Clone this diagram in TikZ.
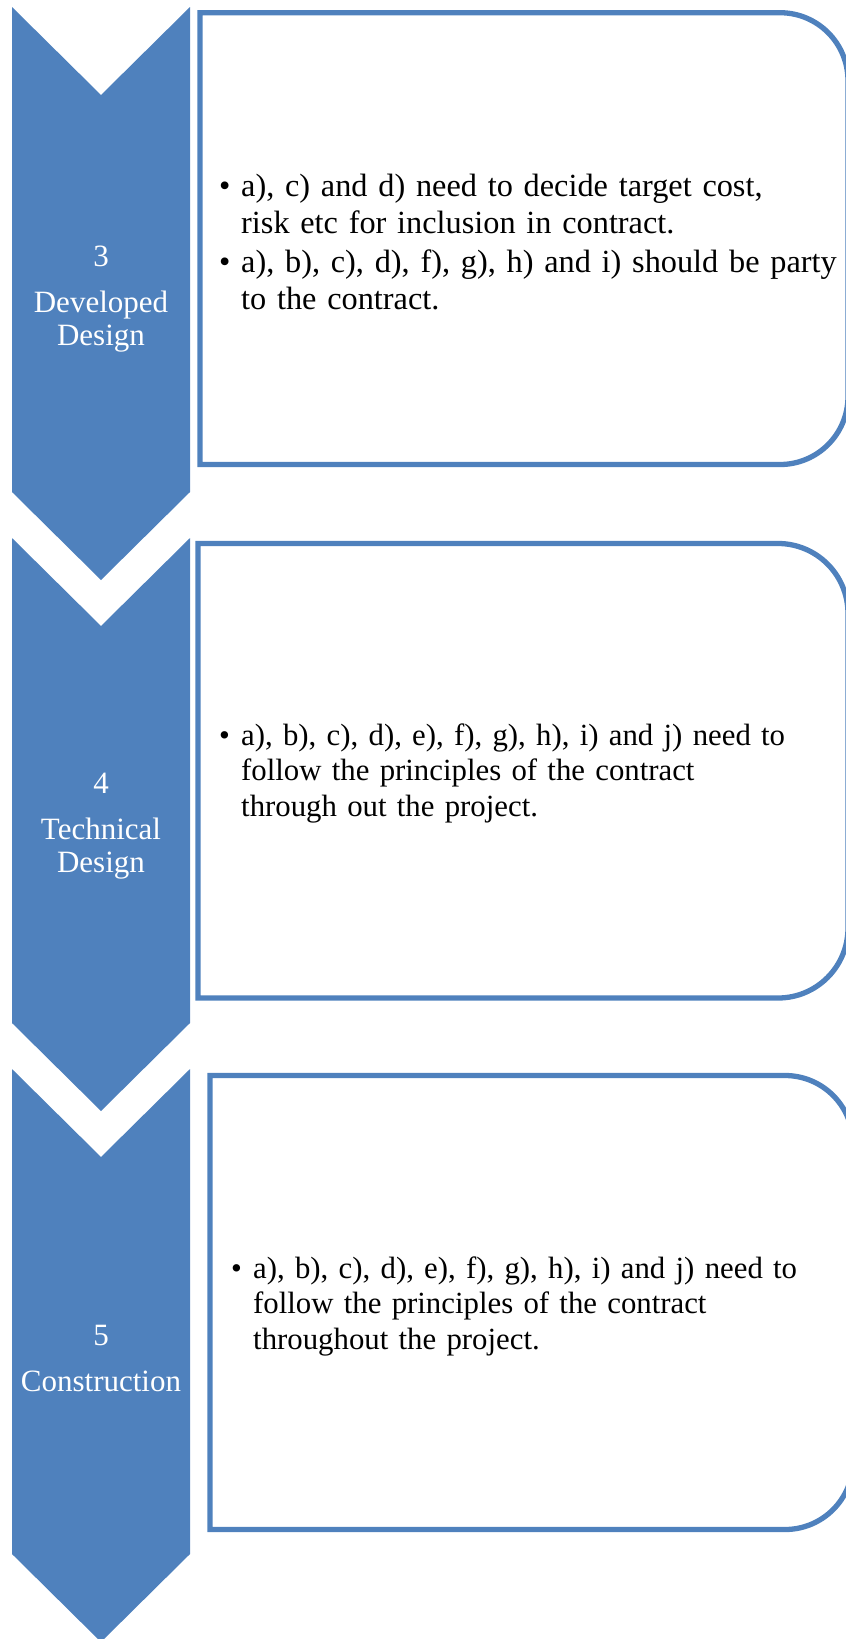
\documentclass[tikz,border=0pt]{standalone}
\usepackage{fontspec}
\setmainfont{Liberation Serif}
\definecolor{chevblue}{HTML}{4F81BD}
\newcommand{\itm}[1]{\hangindent=22pt\hangafter=1\noindent\makebox[22pt][l]{\textbullet}#1\par}

\begin{document}
\begin{tikzpicture}[x=1pt, y=-1pt,
  every node/.style={inner sep=0pt},
  chev/.style={fill=chevblue, draw=none},
  stagebox/.style={draw=chevblue, line width=5.3pt},
  steplabel/.style={text=white, align=center, font=\fontsize{31}{33}\selectfont},
  bodytext/.style={anchor=west, text width=640pt, align=left}]
  \useasboundingbox (0,0) rectangle (846,1639);
  % chevrons
  \fill[chev] (12,7) -- (101,95) -- (190,7) -- (190,492) -- (101,580) -- (12,492) -- cycle;
  \fill[chev] (12,538) -- (101,626) -- (190,538) -- (190,1023) -- (101,1111) -- (12,1023) -- cycle;
  \fill[chev] (12,1069) -- (101,1157) -- (190,1069) -- (190,1554) -- (101,1642) -- (12,1554) -- cycle;
  % boxes, rounded on the right side
  \draw[stagebox] (200,12.7) -- (500,12.7) [rounded corners=68pt] -- (848,12.7) -- (848,464.5) -- (500,464.5) [sharp corners] -- (200,464.5) -- cycle;
  \draw[stagebox] (198,543.5) -- (500,543.5) [rounded corners=70pt] -- (848,543.5) -- (848,998) -- (500,998) [sharp corners] -- (198,998) -- cycle;
  \draw[stagebox] (210,1075.5) -- (500,1075.5) [rounded corners=68pt] -- (853,1075.5) -- (853,1529.5) -- (500,1529.5) [sharp corners] -- (210,1529.5) -- cycle;
  % stage labels
  \node[steplabel] (lab3) at (101,299.5) {3\\[13pt]Developed\\Design};
  \node[steplabel] (lab4) at (101,826.5) {4\\[13pt]Technical\\Design};
  \node[steplabel] (lab5) at (101,1358) {5\\[13pt]Construction};
  % stage texts
  \node[bodytext, font=\fontsize{32.3}{37}\selectfont] (txt3) at (219,242)
    {\itm{a), c) and d) need to decide target cost,\newline risk etc for inclusion in contract.}\vspace{2pt}%
     \itm{a), b), c), d), f), g), h) and i) should be party\newline to the contract.}};
  \node[bodytext, font=\fontsize{30.8}{35.5}\selectfont] (txt4) at (219,773)
    {\itm{a), b), c), d), e), f), g), h), i) and j) need to\newline follow the principles of the contract\newline through out the project.}};
  \node[bodytext, font=\fontsize{30.8}{35.5}\selectfont] (txt5) at (231,1306)
    {\itm{a), b), c), d), e), f), g), h), i) and j) need to\newline follow the principles of the contract\newline throughout the project.}};
\end{tikzpicture}
\end{document}
